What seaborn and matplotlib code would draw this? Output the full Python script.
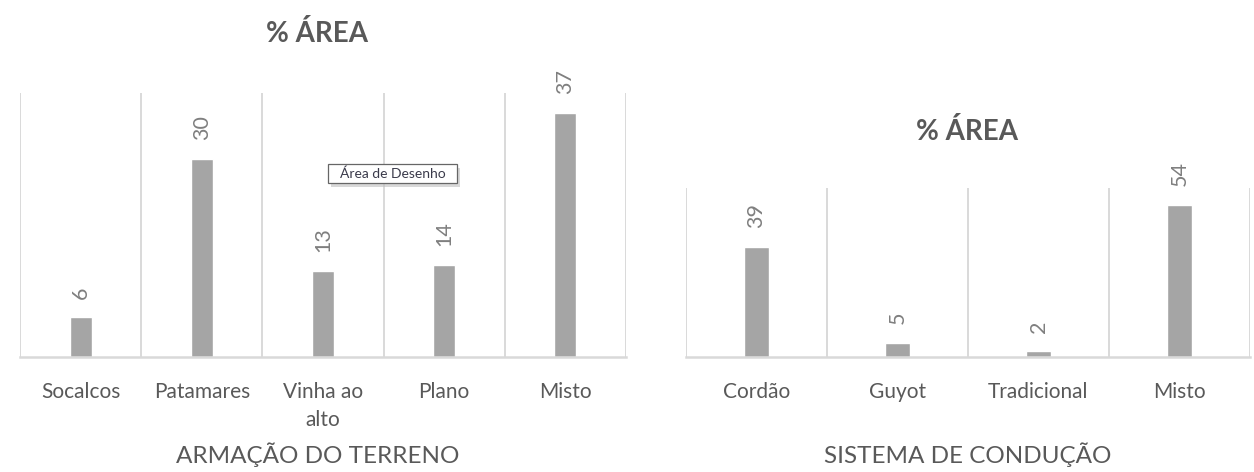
import matplotlib
matplotlib.use("Agg")
import matplotlib.pyplot as plt
from matplotlib.patches import Rectangle
import seaborn as sns
import pandas as pd

# Data
armacao_cats = ["Socalcos", "Patamares", "Vinha ao\nalto", "Plano", "Misto"]
armacao_vals = [6, 30, 13, 14, 37]
conducao_cats = ["Cordão", "Guyot", "Tradicional", "Misto"]
conducao_vals = [39, 5, 2, 54]
title_text = "% ÁREA"
xlabel_left = "ARMAÇÃO DO TERRENO"
xlabel_right = "SISTEMA DE CONDUÇÃO"
tooltip_text = "Área de Desenho"

sns.set_theme(style="white")
plt.rcParams['font.family'] = ['Lato', 'DejaVu Sans']

BAR = "#A5A5A5"
GRID = "#D9D9D9"
TXT = "#595959"
LBL = "#7F7F7F"

fig = plt.figure(figsize=(12.54, 4.72), dpi=100)
W, H = 1254, 472

def px_axes(x0, y0, x1, y1):
    return fig.add_axes([x0 / W, 1 - y1 / H, (x1 - x0) / W, (y1 - y0) / H])

def draw(ax, cats, vals, ymax):
    df = pd.DataFrame({"cat": cats, "val": vals})
    sns.barplot(data=df, x="cat", y="val", color=BAR, width=0.18,
                saturation=1, ax=ax)
    n = len(cats)
    ax.set_xlim(-0.5, n - 0.5)
    ax.set_ylim(0, ymax)
    for b in range(n + 1):
        ax.axvline(b - 0.5, color=GRID, lw=1.4, zorder=0)
    for s in ["left", "right", "top"]:
        ax.spines[s].set_visible(False)
    ax.spines["bottom"].set_color(GRID)
    ax.spines["bottom"].set_linewidth(1.8)
    ax.set_yticks([])
    ax.set_ylabel("")
    ax.set_xlabel("")
    ax.tick_params(axis="x", length=0, pad=18, labelsize=15, labelcolor=TXT)
    for t in ax.get_xticklabels():
        t.set_linespacing(1.5)
    for p, v in zip(ax.patches, vals):
        ax.annotate(f"{v}", (p.get_x() + p.get_width() / 2, p.get_height()),
                    xytext=(0, 13.5), textcoords="offset points",
                    rotation=90, ha="center", va="bottom",
                    fontsize=15.5, color=LBL)

axL = px_axes(20, 93, 626, 357)
draw(axL, armacao_cats, armacao_vals, 40)
fig.text(317 / W, 1 - 33 / H, title_text, ha="center", va="center",
         fontsize=20, fontweight="bold", color=TXT)
fig.text(318 / W, 1 - 455 / H, xlabel_left, ha="center", va="center",
         fontsize=17.5, color=TXT)

axR = px_axes(686, 188, 1250, 357)
draw(axR, conducao_cats, conducao_vals, 60)
fig.text(967 / W, 1 - 132 / H, title_text, ha="center", va="center",
         fontsize=20, fontweight="bold", color=TXT)
fig.text(968 / W, 1 - 455 / H, xlabel_right, ha="center", va="center",
         fontsize=17.5, color=TXT)

# tooltip with shadow
fig.patches.append(Rectangle((331 / W, 1 - 187 / H), 129 / W, 19 / H,
                             transform=fig.transFigure, fc="#BFBFBF",
                             ec="none", alpha=0.6, zorder=5))
fig.patches.append(Rectangle((328 / W, 1 - 183 / H), 129 / W, 19 / H,
                             transform=fig.transFigure, fc="white",
                             ec="#666666", lw=0.9, zorder=6))
fig.text(392.5 / W, 1 - 173.5 / H, tooltip_text, ha="center", va="center",
         fontsize=10, color="#3A3A4A", zorder=7)

fig.savefig("out.png", dpi=100)
